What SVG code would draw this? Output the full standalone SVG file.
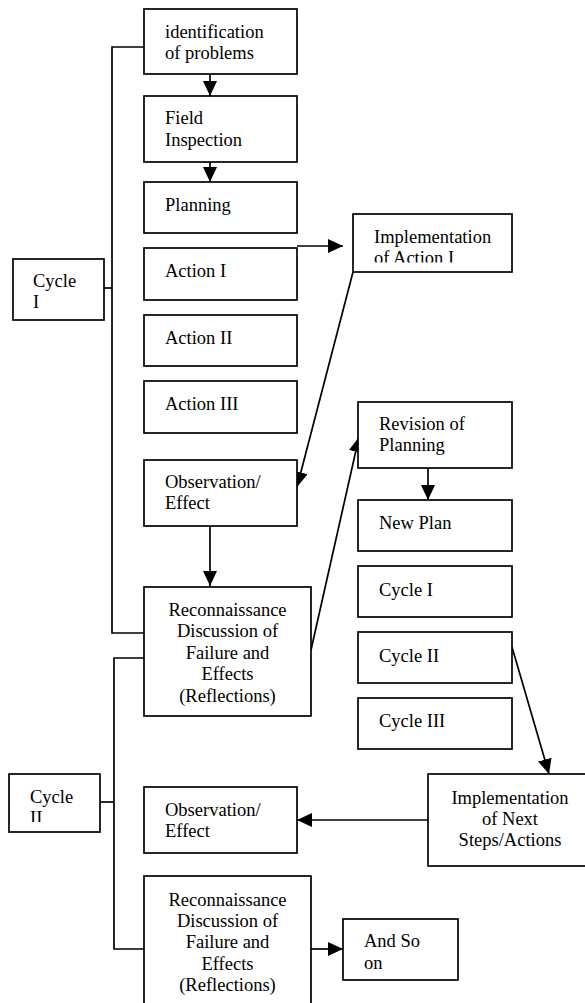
<svg xmlns="http://www.w3.org/2000/svg" width="585" height="1003" viewBox="0 0 585 1003">
<style>
.box{fill:#fff;stroke:#000;stroke-width:1.7}
.t{font-family:"Liberation Serif","Times New Roman",serif;font-size:18.5px;fill:#000}
.c{text-anchor:middle}
.ln{fill:none;stroke:#000;stroke-width:1.7}
</style>
<defs>
<marker id="ah" markerUnits="userSpaceOnUse" markerWidth="16" markerHeight="14" refX="15" refY="7" orient="auto" viewBox="0 0 16 14">
<path d="M0,0 L15,7 L0,14 z" fill="#000"/>
</marker>
<clipPath id="clipImpl"><rect x="353" y="214" width="159" height="48.5"/></clipPath>
<clipPath id="clipC2"><rect x="9" y="774" width="91" height="48"/></clipPath>
</defs>
<rect width="585" height="1003" fill="#fff"/>

<g id="connectors">
<polyline class="ln" points="144,47 112,47 112,633 144,633"/>
<line class="ln" x1="104" y1="288" x2="112" y2="288"/>
<polyline class="ln" points="144,658 114,658 114,949 144,949"/>
<line class="ln" x1="100" y1="802" x2="114" y2="802"/>
<line class="ln" x1="210" y1="74" x2="210" y2="96" marker-end="url(#ah)"/>
<line class="ln" x1="210" y1="162" x2="210" y2="182" marker-end="url(#ah)"/>
<line class="ln" x1="297" y1="246" x2="343" y2="246" marker-end="url(#ah)"/>
<line class="ln" x1="353" y1="272" x2="297" y2="487" marker-end="url(#ah)"/>
<line class="ln" x1="210" y1="526" x2="210" y2="586" marker-end="url(#ah)"/>
<line class="ln" x1="311" y1="650" x2="359" y2="437" marker-end="url(#ah)"/>
<line class="ln" x1="428" y1="468" x2="428" y2="500" marker-end="url(#ah)"/>
<line class="ln" x1="512" y1="647" x2="549" y2="774" marker-end="url(#ah)"/>
<line class="ln" x1="428" y1="820" x2="297" y2="820" marker-end="url(#ah)"/>
<line class="ln" x1="311" y1="949" x2="343" y2="949" marker-end="url(#ah)"/>
</g>

<g id="n-identification"><rect class="box" x="144" y="9" width="153" height="65"/>
<text class="t" x="165" y="38">identification</text><text class="t" x="165" y="59">of problems</text></g>
<g id="n-field"><rect class="box" x="144" y="96" width="153" height="66"/>
<text class="t" x="165" y="124">Field</text><text class="t" x="165" y="146">Inspection</text></g>
<g id="n-planning"><rect class="box" x="144" y="182" width="153" height="51"/>
<text class="t" x="165" y="211">Planning</text></g>
<g id="n-action1"><rect class="box" x="144" y="248" width="153" height="52"/>
<text class="t" x="165" y="277">Action I</text></g>
<g id="n-action2"><rect class="box" x="144" y="315" width="153" height="51"/>
<text class="t" x="165" y="344">Action II</text></g>
<g id="n-action3"><rect class="box" x="144" y="381" width="153" height="52"/>
<text class="t" x="165" y="410">Action III</text></g>
<g id="n-obs1"><rect class="box" x="144" y="460" width="153" height="66"/>
<text class="t" x="165" y="488">Observation/</text><text class="t" x="165" y="509">Effect</text></g>
<g id="n-recon1"><rect class="box" x="144" y="587" width="167" height="129"/>
<text class="t c" x="227.5" y="616">Reconnaissance</text>
<text class="t c" x="227.5" y="637">Discussion of</text>
<text class="t c" x="227.5" y="659">Failure and</text>
<text class="t c" x="227.5" y="680">Effects</text>
<text class="t c" x="227.5" y="702">(Reflections)</text></g>
<g id="n-cycle1"><rect class="box" x="13" y="259" width="91" height="61"/>
<text class="t" x="33" y="287">Cycle</text><text class="t" x="33" y="308">I</text></g>
<g id="n-impl1"><rect class="box" x="353" y="214" width="159" height="58"/>
<text class="t" x="374" y="243">Implementation</text>
<text class="t" x="374" y="264" clip-path="url(#clipImpl)">of Action I</text></g>
<g id="n-revision"><rect class="box" x="358" y="402" width="154" height="66"/>
<text class="t" x="379" y="430">Revision of</text><text class="t" x="379" y="451">Planning</text></g>
<g id="n-newplan"><rect class="box" x="358" y="500" width="154" height="51"/>
<text class="t" x="379" y="529">New Plan</text></g>
<g id="n-cyc1r"><rect class="box" x="358" y="566" width="154" height="51"/>
<text class="t" x="379" y="596">Cycle I</text></g>
<g id="n-cyc2r"><rect class="box" x="358" y="632" width="154" height="51"/>
<text class="t" x="379" y="662">Cycle II</text></g>
<g id="n-cyc3r"><rect class="box" x="358" y="698" width="154" height="51"/>
<text class="t" x="379" y="727">Cycle III</text></g>
<g id="n-cycle2"><rect class="box" x="9" y="774" width="91" height="58"/>
<text class="t" x="30" y="803">Cycle</text>
<text class="t" x="30" y="824" clip-path="url(#clipC2)">II</text></g>
<g id="n-obs2"><rect class="box" x="144" y="787" width="153" height="66"/>
<text class="t" x="165" y="816">Observation/</text><text class="t" x="165" y="837">Effect</text></g>
<g id="n-implnext"><rect class="box" x="428" y="774" width="172" height="92"/>
<text class="t c" x="510" y="804">Implementation</text>
<text class="t c" x="510" y="825">of Next</text>
<text class="t c" x="510" y="846">Steps/Actions</text></g>
<g id="n-recon2"><rect class="box" x="144" y="876" width="167" height="140"/>
<text class="t c" x="227.5" y="906">Reconnaissance</text>
<text class="t c" x="227.5" y="927">Discussion of</text>
<text class="t c" x="227.5" y="948">Failure and</text>
<text class="t c" x="227.5" y="970">Effects</text>
<text class="t c" x="227.5" y="991">(Reflections)</text></g>
<g id="n-andso"><rect class="box" x="343" y="919" width="115" height="61"/>
<text class="t" x="364" y="947">And So</text><text class="t" x="364" y="969">on</text></g>
</svg>
